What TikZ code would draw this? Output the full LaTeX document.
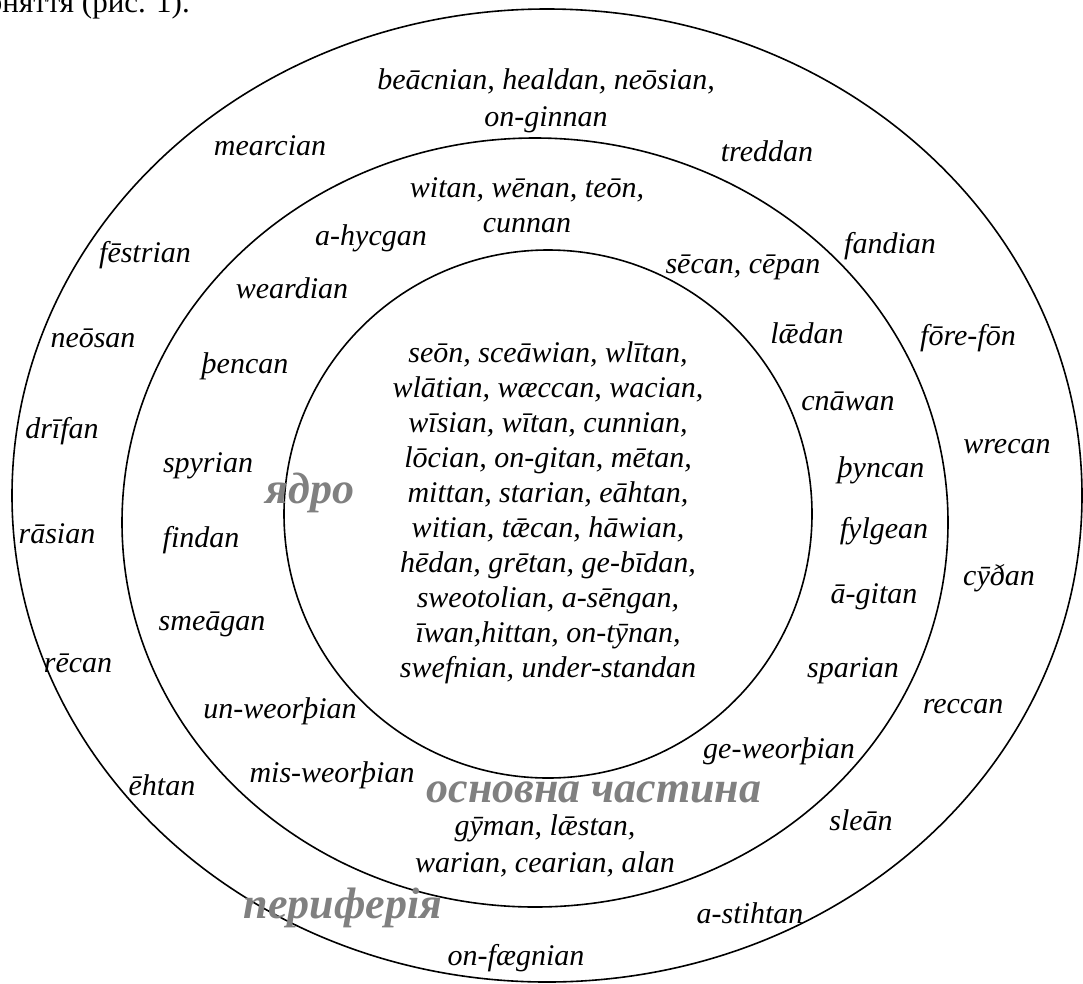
\documentclass[tikz,border=0pt]{standalone}
\usepackage{fontspec}
\setmainfont{Liberation Serif}
\definecolor{zonegray}{HTML}{808080}
\tikzset{
  ring/.style={draw=black, line width=1.6pt},
  word/.style={font=\fontsize{30}{35}\selectfont\itshape, inner sep=0pt, align=center},
  zone/.style={font=\fontsize{44}{50}\selectfont\bfseries\itshape, text=zonegray, inner sep=0pt},
  caption/.style={font=\fontsize{31}{36}\selectfont, inner sep=0pt}
}
\begin{document}
\begin{tikzpicture}[x=1pt, y=-1pt]
\useasboundingbox (0,0) rectangle (1083,983);
% rings
\draw[ring] (547,495.5) ellipse [x radius=535, y radius=486.5];
\draw[ring] (535,522.5) ellipse [x radius=413, y radius=384.5];
\draw[ring] (548,514) circle [radius=264];
% cut-off caption line above the figure
\node[caption, anchor=base east] (cap) at (190,12) {поняття (рис. 1).};
% core
\node[word] (core) at (548,512.3) {seōn, sceāwian, wlītan,\\wlātian, wæccan, wacian,\\wīsian, wītan, cunnian,\\lōcian, on-gitan, mētan,\\mittan, starian, eāhtan,\\witian, tǣcan, hāwian,\\hēdan, grētan, ge-bīdan,\\sweotolian, a-sēngan,\\īwan,hittan, on-tȳnan,\\swefnian, under-standan};
% main part
\node[word] (m1) at (527,205) {witan, wēnan, teōn,\\cunnan};
\node[word, anchor=base] (m2) at (371,245) {a-hycgan};
\node[word, anchor=base] (m3) at (743,273) {sēcan, cēpan};
\node[word, anchor=base] (m4) at (292,298) {weardian};
\node[word, anchor=base] (m5) at (807,343) {lǣdan};
\node[word, anchor=base] (m6) at (245,373) {þencan};
\node[word, anchor=base] (m7) at (848,410) {cnāwan};
\node[word, anchor=base] (m8) at (208,472) {spyrian};
\node[word, anchor=base] (m9) at (881,477) {þyncan};
\node[word, anchor=base] (m10) at (884,538) {fylgean};
\node[word, anchor=base] (m11) at (201,547) {findan};
\node[word, anchor=base] (m12) at (874,603) {ā-gitan};
\node[word, anchor=base] (m13) at (212,630) {smeāgan};
\node[word, anchor=base] (m14) at (853,677) {sparian};
\node[word, anchor=base] (m15) at (280,718) {un-weorþian};
\node[word, anchor=base] (m16) at (779,758) {ge-weorþian};
\node[word, anchor=base] (m17) at (332,782) {mis-weorþian};
\node[word, font=\fontsize{30}{37}\selectfont\itshape] (m18) at (545,846) {gȳman, lǣstan,\\warian, cearian, alan};
% periphery
\node[word, font=\fontsize{30}{37}\selectfont\itshape] (p1) at (546,101) {beācnian, healdan, neōsian,\\on-ginnan};
\node[word, anchor=base] (p2) at (270,155) {mearcian};
\node[word, anchor=base] (p3) at (767,161) {treddan};
\node[word, anchor=base] (p4) at (890,253) {fandian};
\node[word, anchor=base] (p5) at (145,262) {fēstrian};
\node[word, anchor=base] (p6) at (968,345) {fōre-fōn};
\node[word, anchor=base] (p7) at (93,347) {neōsan};
\node[word, anchor=base] (p8) at (62,438) {drīfan};
\node[word, anchor=base] (p9) at (1007,453) {wrecan};
\node[word, anchor=base] (p10) at (57,543) {rāsian};
\node[word, anchor=base] (p11) at (999,585) {cȳðan};
\node[word, anchor=base] (p12) at (78,672) {rēcan};
\node[word, anchor=base] (p13) at (963,713) {reccan};
\node[word, anchor=base] (p14) at (162,795) {ēhtan};
\node[word, anchor=base] (p15) at (861,830) {sleān};
\node[word, anchor=base] (p16) at (750,923) {a-stihtan};
\node[word, anchor=base] (p17) at (516,965) {on-fægnian};
% zone labels
\node[zone, anchor=base] (zcore) at (310,503) {ядро};
\node[zone, anchor=base] (zmain) at (594,802) {основна частина};
\node[zone, anchor=base] (zper) at (343,918) {периферія};
\end{tikzpicture}
\end{document}
